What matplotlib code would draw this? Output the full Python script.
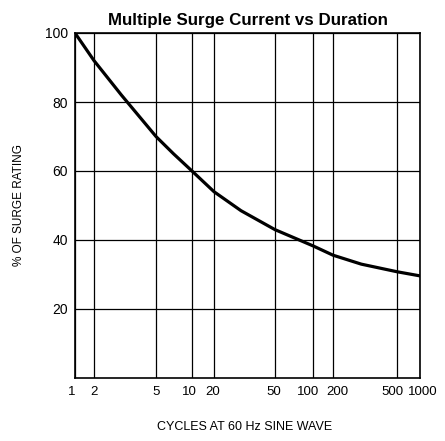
import numpy as np
import matplotlib
matplotlib.use("Agg")
import matplotlib.pyplot as plt
from matplotlib.transforms import ScaledTranslation

# chart data
cycles = [1, 2, 3, 5, 7, 10, 20, 30, 50, 100, 200, 300, 500, 1000]
surge_pct = [100, 92, 82, 70, 65, 60, 54, 48.5, 43, 38.3, 35.6, 33, 30.8, 29.6]

x_ticks = [1, 2, 5, 10, 20, 50, 100, 200, 500, 1000]
y_ticks = [20, 40, 60, 80, 100]

# the printed chart uses an uneven, roughly logarithmic x scale
tick_pos = [0, 19, 81, 117, 139, 200, 238, 258, 322, 345]
log_ticks = np.log10(x_ticks)
# small sideways nudges of the printed tick labels (pixels)
label_nudge = [-3, 0, 0, -3, -1, -1, -5, 4, -5, 3]


def fwd(x):
    x = np.clip(np.asarray(x, dtype=float), 1e-6, None)
    return np.interp(np.log10(x), log_ticks, tick_pos)


def inv(p):
    return 10 ** np.interp(np.asarray(p, dtype=float), tick_pos, log_ticks)


plt.rcParams['font.family'] = ['Liberation Sans', 'DejaVu Sans']

fig = plt.figure(figsize=(4.45, 4.41), dpi=100)
ax = fig.add_axes([75 / 445, 1 - 378 / 441, 345 / 445, 345 / 441])

ax.set_xscale('function', functions=(fwd, inv))
ax.plot(cycles, surge_pct, color='black', lw=2.3, solid_capstyle='round',
        solid_joinstyle='round')

ax.set_xlim(1, 1000)
ax.set_ylim(0, 100)
ax.set_xticks(x_ticks)
ax.set_xticklabels([str(t) for t in x_ticks])
ax.minorticks_off()
ax.set_yticks(y_ticks)
ax.grid(True, color='black', lw=0.9)
ax.tick_params(length=0)
ax.tick_params(axis='x', pad=6, labelsize=9.5)
ax.tick_params(axis='y', pad=5, labelsize=10)
for lab, dx in zip(ax.get_xticklabels(), label_nudge):
    lab.set_transform(lab.get_transform() +
                      ScaledTranslation(dx / 100, 0, fig.dpi_scale_trans))
for s in ax.spines.values():
    s.set_linewidth(1.2)

ax.set_title("Multiple Surge Current vs Duration", fontsize=12.2,
             fontweight='bold', pad=6)
ax.set_xlabel("CYCLES AT 60 Hz SINE WAVE", fontsize=9)
ax.set_ylabel("% OF SURGE RATING", fontsize=8.5)
# axis titles placed where the printed chart has them (figure pixels)
ax.xaxis.set_label_coords(245 / 445, 1 - 421 / 441, transform=fig.transFigure)
ax.yaxis.set_label_coords(25 / 445, 1 - 205 / 441, transform=fig.transFigure)

fig.savefig("out.png", dpi=100)
plt.close(fig)
